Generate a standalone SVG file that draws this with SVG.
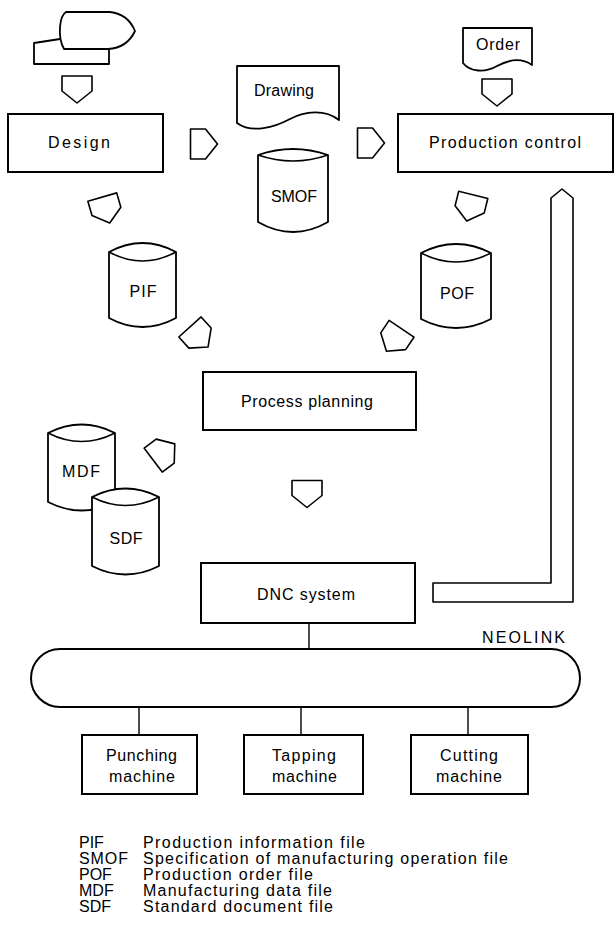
<svg xmlns="http://www.w3.org/2000/svg" width="615" height="926" viewBox="0 0 615 926">
  <style>
    .box { fill: #fff; stroke: #000; stroke-width: 2; }
    .shape { fill: #fff; stroke: #000; stroke-width: 1.8; stroke-linejoin: round; }
    .thin { fill: none; stroke: #000; stroke-width: 1.6; }
    .flow { fill: #fff; stroke: #000; stroke-width: 1.6; stroke-linejoin: round; }
    .link { fill: none; stroke: #000; stroke-width: 1.4; }
    text { font-family: "Liberation Sans", Arial, sans-serif; font-size: 16px; fill: #000; }
    .mid { text-anchor: middle; }
  </style>
  <defs>
    <!-- flow marker: pentagon pointing down, centred on origin -->
    <polygon id="flowhead" points="-15,-13.5 15,-13.5 15,1.5 0,13.5 -15,1.5"/>
  </defs>

  <!-- connectors: flow markers, return path and network drops -->
  <g id="connectors">
    <use href="#flowhead" class="flow" transform="translate(77,89.5)"/>
    <use href="#flowhead" class="flow" transform="translate(204,144) rotate(-90)"/>
    <use href="#flowhead" class="flow" transform="translate(371,143) rotate(-90)"/>
    <use href="#flowhead" class="flow" transform="translate(497,92.5)"/>
    <use href="#flowhead" class="flow" transform="translate(106,210) rotate(-16)"/>
    <use href="#flowhead" class="flow" transform="translate(199,337) rotate(-42)"/>
    <use href="#flowhead" class="flow" transform="translate(470,208) rotate(14)"/>
    <use href="#flowhead" class="flow" transform="translate(394,340) rotate(34)"/>
    <use href="#flowhead" class="flow" transform="translate(164,452) rotate(-127)"/>
    <use href="#flowhead" class="flow" transform="translate(307,494)"/>
    <!-- feedback from DNC system to production control -->
    <polygon class="flow" points="433,583 551,583 551,198 562,189 573,198 573,602 433,602"/>
    <line class="link" x1="309" y1="623" x2="309" y2="649"/>
    <line class="link" x1="139" y1="707" x2="139" y2="735"/>
    <line class="link" x1="301" y1="707" x2="301" y2="735"/>
    <line class="link" x1="468" y1="707" x2="468" y2="735"/>
  </g>

  <!-- product (ship) -->
  <g id="product">
    <path class="shape" d="M60,39 L34,43 L34,64 L109,64 L109,49"/>
    <path class="shape" d="M66,12 L110,12 Q128,14 135,31 Q127,48 108,49 L64,49 Q59,40 60,27 Q61,15 66,12 Z"/>
  </g>

  <g id="design">
    <rect class="box" x="8" y="114" width="155" height="58"/>
    <text x="79" y="148" class="mid" textLength="62" lengthAdjust="spacing">Design</text>
  </g>

  <g id="drawing">
    <path class="shape" d="M237,66 L339,66 L339,120 C325,109 305,111 290,119 C275,127 252,134 237,123 Z"/>
    <text x="284" y="96" class="mid" textLength="60" lengthAdjust="spacing">Drawing</text>
  </g>

  <g id="smof">
    <path class="shape" d="M258,155 Q293,143 328,155 L328,222 Q293,242 258,222 Z"/>
    <path class="thin" d="M258,155 Q293,167 328,155"/>
    <text x="294" y="202" class="mid" textLength="46" lengthAdjust="spacing">SMOF</text>
  </g>

  <g id="order">
    <path class="shape" d="M463,28 L532,28 L532,65 C522,58 510,59 497,66 C485,73 470,72 463,63 Z"/>
    <text x="498" y="50" class="mid" textLength="44" lengthAdjust="spacing">Order</text>
  </g>

  <g id="production-control">
    <rect class="box" x="398" y="114" width="215" height="58"/>
    <text x="505" y="148" class="mid" textLength="152" lengthAdjust="spacing">Production control</text>
  </g>

  <g id="pif">
    <path class="shape" d="M109,252 Q142.5,234 176,252 L176,318 Q142.5,336 109,318 Z"/>
    <path class="thin" d="M109,252 Q142.5,270 176,252"/>
    <text x="143" y="297" class="mid" textLength="27" lengthAdjust="spacing">PIF</text>
  </g>

  <g id="pof">
    <path class="shape" d="M421,253 Q456,235 491,253 L491,319 Q456,337 421,319 Z"/>
    <path class="thin" d="M421,253 Q456,271 491,253"/>
    <text x="457" y="299" class="mid" textLength="34" lengthAdjust="spacing">POF</text>
  </g>

  <g id="process-planning">
    <rect class="box" x="203" y="372" width="213" height="58"/>
    <text x="307" y="407" class="mid" textLength="132" lengthAdjust="spacing">Process planning</text>
  </g>

  <g id="mdf">
    <path class="shape" d="M48,433 Q81.5,416 115,433 L115,502 Q81.5,519 48,502 Z"/>
    <path class="thin" d="M48,433 Q81.5,450 115,433"/>
    <text x="81" y="477" class="mid" textLength="38" lengthAdjust="spacing">MDF</text>
  </g>

  <g id="sdf">
    <path class="shape" d="M92,497 Q125.5,480 159,497 L159,566 Q125.5,583 92,566 Z"/>
    <path class="thin" d="M92,497 Q125.5,514 159,497"/>
    <text x="126" y="544" class="mid" textLength="33" lengthAdjust="spacing">SDF</text>
  </g>

  <g id="dnc-system">
    <rect class="box" x="201" y="563" width="214" height="60"/>
    <text x="306" y="600" class="mid" textLength="98" lengthAdjust="spacing">DNC system</text>
  </g>

  <g id="neolink">
    <rect class="box" x="31" y="649" width="549" height="58" rx="29" ry="29"/>
    <text x="565" y="643" text-anchor="end" textLength="83" lengthAdjust="spacing">NEOLINK</text>
  </g>

  <g id="punching-machine">
    <rect class="box" x="82" y="735" width="115" height="59"/>
    <text x="141.5" y="761" class="mid" textLength="71" lengthAdjust="spacing">Punching</text>
    <text x="142" y="782" class="mid" textLength="66" lengthAdjust="spacing">machine</text>
  </g>

  <g id="tapping-machine">
    <rect class="box" x="244" y="735" width="119" height="59"/>
    <text x="304" y="761" class="mid" textLength="64" lengthAdjust="spacing">Tapping</text>
    <text x="304.5" y="782" class="mid" textLength="65" lengthAdjust="spacing">machine</text>
  </g>

  <g id="cutting-machine">
    <rect class="box" x="411" y="735" width="117" height="59"/>
    <text x="469" y="761" class="mid" textLength="58" lengthAdjust="spacing">Cutting</text>
    <text x="469" y="782" class="mid" textLength="66" lengthAdjust="spacing">machine</text>
  </g>

  <!-- abbreviation key -->
  <g id="legend">
    <text x="79" y="848">PIF</text>
    <text x="143" y="848" textLength="222" lengthAdjust="spacing">Production information file</text>
    <text x="79" y="864" textLength="49" lengthAdjust="spacing">SMOF</text>
    <text x="143" y="864" textLength="365" lengthAdjust="spacing">Specification of manufacturing operation file</text>
    <text x="79" y="880">POF</text>
    <text x="143" y="880" textLength="170" lengthAdjust="spacing">Production order file</text>
    <text x="79" y="896">MDF</text>
    <text x="143" y="896" textLength="189" lengthAdjust="spacing">Manufacturing data file</text>
    <text x="79" y="912">SDF</text>
    <text x="143" y="912" textLength="190" lengthAdjust="spacing">Standard document file</text>
  </g>
</svg>
